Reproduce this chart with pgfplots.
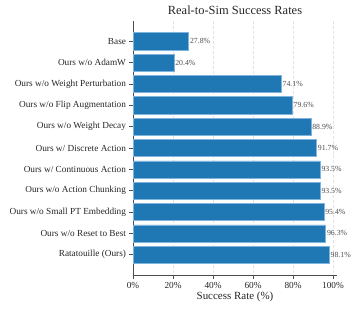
\documentclass[border=0pt]{standalone}
\usepackage{pgfplots}
\pgfplotsset{compat=1.18}
\usepackage{fontspec}
\setmainfont{Liberation Serif}
\definecolor{barblue}{HTML}{1F77B4}
\definecolor{baredge}{HTML}{7FB2DC}
\begin{document}
\begin{tikzpicture}[x=1bp,y=1bp]
\useasboundingbox (0,0) rectangle (357,309);
\begin{axis}[
  at={(133bp,34bp)}, anchor=south west,
  width=204bp, height=254bp, scale only axis,
  xbar, bar width=0.8,
  xmin=0, xmax=102,
  ymin=-0.95, ymax=10.95, y dir=reverse,
  ytick={0,...,10},
  yticklabels={Base,Ours w/o AdamW,Ours w/o Weight Perturbation,Ours w/o Flip Augmentation,Ours w/o Weight Decay,Ours w/ Discrete Action,Ours w/ Continuous Action,Ours w/o Action Chunking,Ours w/o Small PT Embedding,Ours w/o Reset to Best,Ratatouille (Ours)},
  xtick={0,20,40,60,80,100},
  xticklabels={0\%,20\%,40\%,60\%,80\%,100\%},
  axis x line*=bottom, axis y line*=left,
  axis line style={black!70, line width=0.6pt},
  tick align=outside, major tick length=3.5bp,
  tick style={black!70, line width=0.6pt},
  xmajorgrids, major grid style={densely dashed, black!11, line width=0.4pt},
  ticklabel style={font=\fontsize{9.3}{10}\selectfont, text=black!85},
  every axis title shift=0pt,
  title={Real-to-Sim Success Rates},
  title style={font=\fontsize{12.5}{13}\selectfont, text=black!85, at={(0.5,1)}, anchor=base, yshift=7bp},
  xlabel={Success Rate (\%)},
  xlabel style={font=\fontsize{11}{12}\selectfont, text=black!85, at={(0.5,0)}, anchor=base, yshift=-24bp},
  point meta=explicit symbolic,
  nodes near coords,
  nodes near coords style={font=\fontsize{7.8}{8}\selectfont, text=black!70, anchor=west, inner xsep=1.2bp},
]
\addplot[fill=barblue, draw=baredge, line width=0.6pt] coordinates {
  (27.8,0) [27.8\%]
  (20.4,1) [20.4\%]
  (74.1,2) [74.1\%]
  (79.6,3) [79.6\%]
  (88.9,4) [88.9\%]
  (91.7,5) [91.7\%]
  (93.5,6) [93.5\%]
  (93.5,7) [93.5\%]
  (95.4,8) [95.4\%]
  (96.3,9) [96.3\%]
  (98.1,10) [98.1\%]
};
\end{axis}
\end{tikzpicture}
\end{document}
